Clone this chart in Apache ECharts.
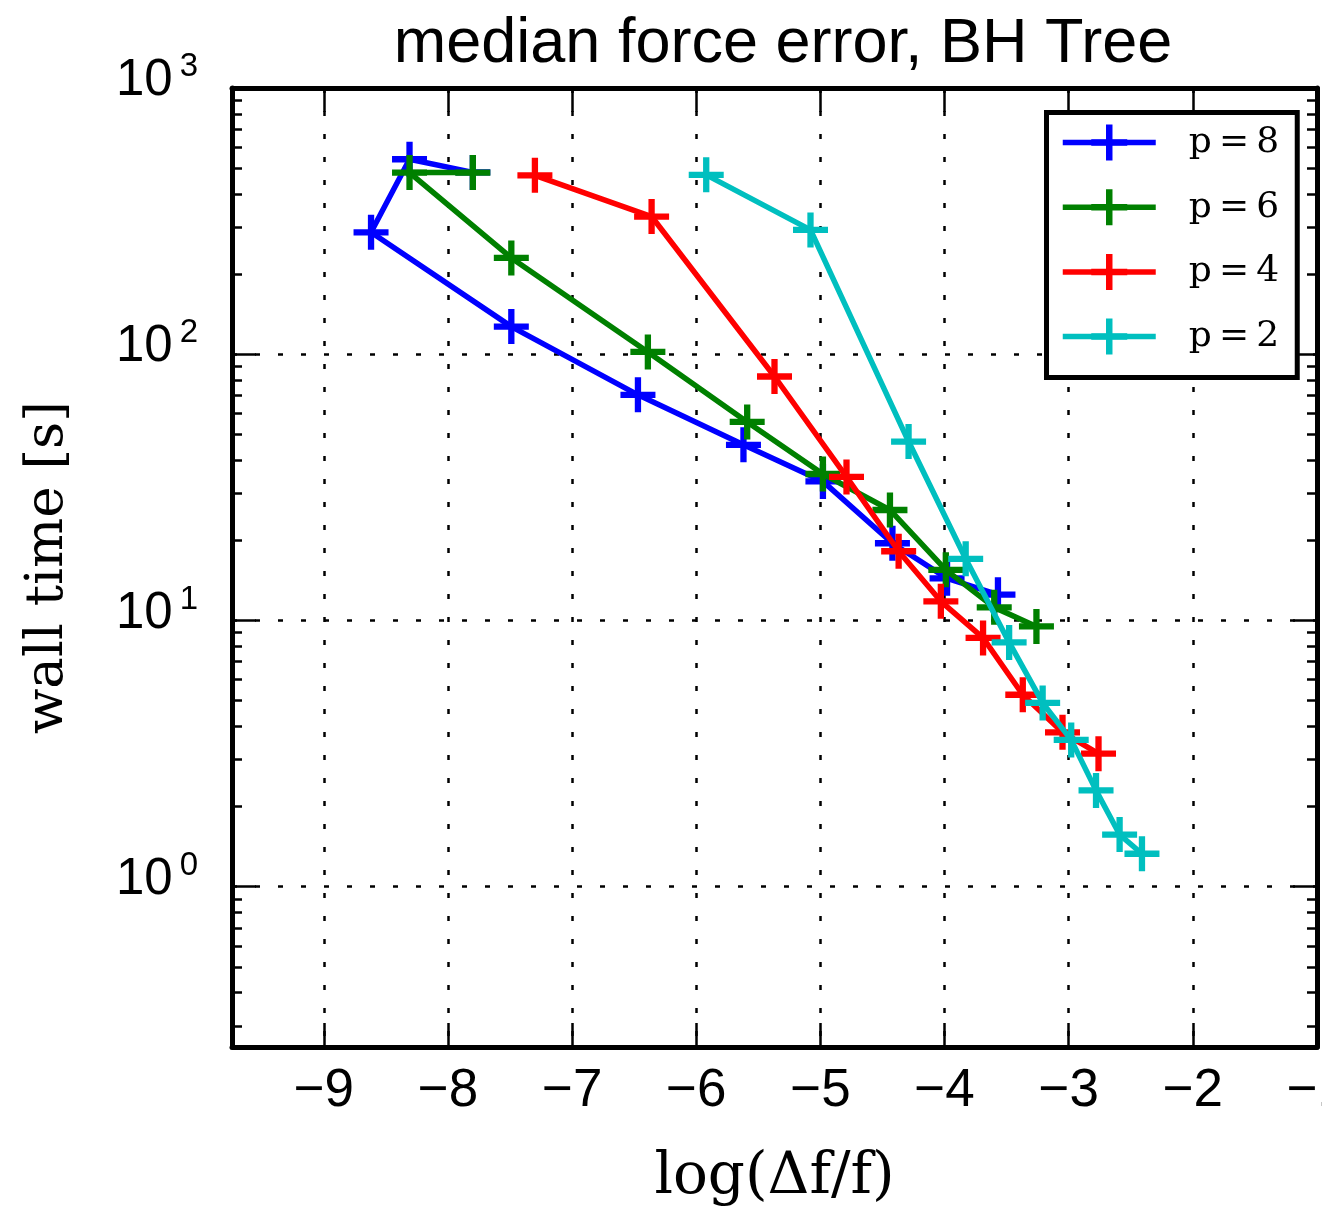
<!DOCTYPE html>
<html><head><meta charset="utf-8">
<script src="https://cdn.jsdelivr.net/npm/echarts@6/dist/echarts.min.js"></script>
<style>html,body{margin:0;padding:0;background:#fff}#c{width:1322px;height:1207px}</style>
</head><body><div id="c"></div>
<script>
// ---- data ----
const xTickValues = [-9, -8, -7, -6, -5, -4, -3, -2, -1];
const yMajorTicks = [1, 10, 100, 1000];
const yMinorTicks = [0.3,0.4,0.5,0.6,0.7,0.8,0.9, 2,3,4,5,6,7,8,9, 20,30,40,50,60,70,80,90, 200,300,400,500,600,700,800,900];
const seriesNames = ['p\u2009=\u20098', 'p\u2009=\u20096', 'p\u2009=\u20094', 'p\u2009=\u20092'];
const seriesColors = ['#0000ff', '#008000', '#ff0000', '#00bfbf'];

const p8X = [-7.80, -8.31, -8.62, -7.49, -6.47, -5.62, -4.98, -4.42, -3.98, -3.57];
const p8Y = [482, 540, 287, 127, 70.4, 45.7, 33.3, 19.5, 14.4, 12.5];
const p6X = [-7.80, -8.31, -7.49, -6.39, -5.59, -4.98, -4.44, -3.99, -3.60, -3.26];
const p6Y = [481, 481, 230, 102, 55.7, 35.5, 26.0, 15.5, 11.2, 9.5];
const p4X = [-7.30, -6.36, -5.37, -4.79, -4.37, -4.03, -3.69, -3.37, -3.05, -2.76];
const p4Y = [470, 329, 82.5, 34.6, 18.2, 11.8, 8.6, 5.26, 3.80, 3.16];
const p2X = [-5.92, -5.08, -4.29, -3.83, -3.48, -3.21, -2.98, -2.78, -2.59, -2.41];
const p2Y = [472, 293, 47.0, 17.05, 8.27, 4.90, 3.56, 2.30, 1.57, 1.33];

const allX = [p8X, p6X, p4X, p2X];
const allY = [p8Y, p6Y, p4Y, p2Y];

// ---- chart ----
const PLUS = 'path://M0,0.41H1V0.59H0Z M0.41,0H0.59V1H0.41Z';
const BLACK = '#000';
const SANS = 'Liberation Sans';
const SERIF = 'DejaVu Serif';
const X_MIN = -9.74, X_MAX = -1, Y_MIN = 0.25, Y_MAX = 1000;
const LINE_W = 5.5;

const chart = echarts.init(document.getElementById('c'), null, {renderer: 'canvas'});

function yAxisCfg(pos, ticks, len, withLabels, withSplit, withLine, extra) {
  return Object.assign({
    type: 'log', logBase: 10, position: pos, min: Y_MIN, max: Y_MAX, gridIndex: 0,
    axisLine: {show: withLine, lineStyle: {color: BLACK, width: 5}},
    axisTick: {show: true, inside: true, length: len, customValues: ticks, lineStyle: {color: BLACK, width: 2.5}},
    axisLabel: withLabels ? {
      show: true, customValues: ticks, margin: 34, padding: [0, 0, 14, 0],
      formatter: v => '{b|10}{s|' + Math.round(Math.log10(v)) + '}',
      rich: {
        b: {fontFamily: SANS, fontSize: 51, lineHeight: 51, color: BLACK},
        s: {fontFamily: SANS, fontSize: 33, lineHeight: 33, color: BLACK, padding: [0, 0, 28, 7]}
      }
    } : {show: false},
    splitLine: {show: withSplit, lineStyle: {color: BLACK, width: 2.5, type: [5, 18]}},
    minorTick: {show: false}, minorSplitLine: {show: false}
  }, extra || {});
}

const option = {
  animation: false,
  backgroundColor: '#fff',
  title: {
    text: 'median force error, BH Tree', left: 778, textAlign: 'center', top: 8,
    textStyle: {fontFamily: SANS, fontSize: 63, lineHeight: 63, fontWeight: 'normal', color: BLACK}
  },
  grid: {left: 232, right: 5, top: 88, bottom: 160, containLabel: false, outerBoundsMode: 'none'},
  legend: {
    orient: 'vertical', left: 1046.5, top: 112.5, padding: [12, 18, 23, 13.5],
    itemGap: 28.7, itemWidth: 93, itemHeight: 45,
    backgroundColor: '#fff', borderColor: BLACK, borderWidth: 5, borderRadius: 0,
    lineStyle: {width: LINE_W},
    textStyle: {fontFamily: SERIF, fontSize: 36, color: BLACK, padding: [0, 0, 0, 28]},
    data: seriesNames, selectedMode: false
  },
  xAxis: [
    {
      type: 'value', position: 'bottom', min: X_MIN, max: X_MAX,
      axisLine: {show: true, onZero: false, lineStyle: {color: BLACK, width: 5}},
      axisTick: {show: true, inside: true, length: 24, customValues: xTickValues, lineStyle: {color: BLACK, width: 2.5}},
      axisLabel: {show: true, customValues: xTickValues, margin: 18, fontFamily: SANS, fontSize: 53, color: BLACK,
        formatter: v => (v < 0 ? '\u2212' : '') + Math.abs(v)},
      splitLine: {show: true, lineStyle: {color: BLACK, width: 2.5, type: [5, 18]}},
      name: 'log(\u0394f/f)', nameLocation: 'middle', nameGap: 102,
      nameTextStyle: {fontFamily: SERIF, fontSize: 58, color: BLACK}
    },
    {
      type: 'value', position: 'top', min: X_MIN, max: X_MAX,
      axisLine: {show: true, onZero: false, lineStyle: {color: BLACK, width: 5}},
      axisTick: {show: true, inside: true, length: 24, customValues: xTickValues, lineStyle: {color: BLACK, width: 2.5}},
      axisLabel: {show: false}, splitLine: {show: false}
    }
  ],
  yAxis: [
    yAxisCfg('left', yMajorTicks, 24, true, true, true, {
      name: 'wall time [s]', nameLocation: 'middle', nameGap: 157, nameRotate: 90,
      nameTextStyle: {fontFamily: SERIF, fontSize: 53, color: BLACK}
    }),
    yAxisCfg('left', yMinorTicks, 10, false, false, false),
    yAxisCfg('right', yMajorTicks, 24, false, false, true),
    yAxisCfg('right', yMinorTicks, 10, false, false, false)
  ],
  series: seriesNames.map((name, k) => ({
    type: 'line', name: name, xAxisIndex: 0, yAxisIndex: 0,
    data: allX[k].map((x, i) => [x, allY[k][i]]),
    symbol: PLUS, symbolSize: 35, showSymbol: true, showAllSymbol: true,
    lineStyle: {width: LINE_W, color: seriesColors[k]},
    itemStyle: {color: seriesColors[k]},
    emphasis: {disabled: true},
    z: 2 + k
  }))
};
chart.setOption(option);
</script>
</body></html>
